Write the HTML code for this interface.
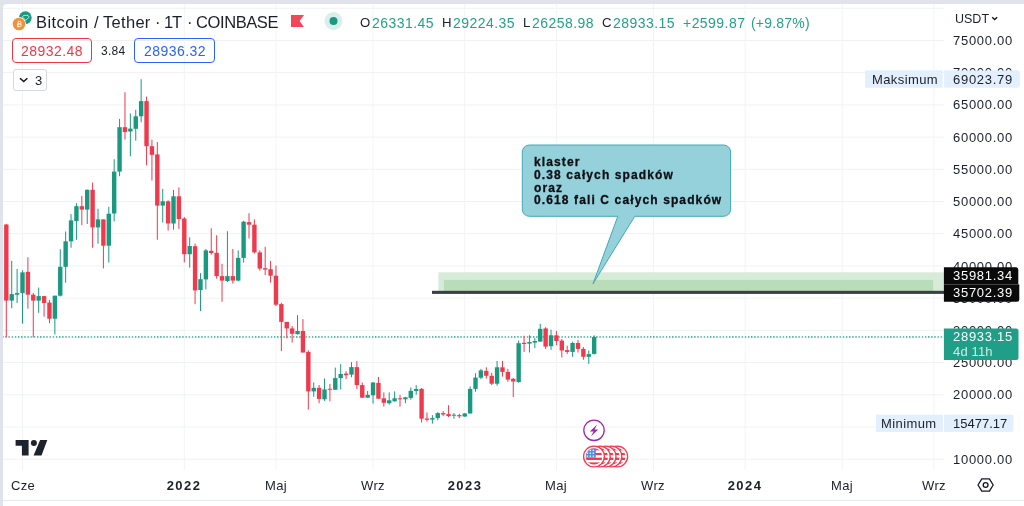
<!DOCTYPE html>
<html><head><meta charset="utf-8"><title>BTCUSDT</title>
<style>
html,body{margin:0;padding:0;}
body{width:1024px;height:506px;overflow:hidden;background:#e0e3eb;position:relative;font-family:"Liberation Sans",sans-serif;}
#pane{position:absolute;left:3px;top:4px;width:1021px;height:502px;background:#fff;border-top-left-radius:4px;}
#bl{position:absolute;left:3px;top:500px;width:1021px;height:1px;background:#e7eaec;}
svg{position:absolute;left:0;top:0;}
.t{position:absolute;white-space:nowrap;will-change:transform;}
.c{text-align:center;color:#1b1f2a;}
.box{position:absolute;box-sizing:border-box;border:1px solid;border-radius:4px;}
</style></head><body>
<div id="pane"></div>
<div id="bl"></div>
<svg width="1024" height="506" viewBox="0 0 1024 506">
<rect x="3" y="458.70" width="941" height="1" fill="#f0f2f2"/>
<rect x="3" y="426.49" width="941" height="1" fill="#f0f2f2"/>
<rect x="3" y="394.28" width="941" height="1" fill="#f0f2f2"/>
<rect x="3" y="362.07" width="941" height="1" fill="#f0f2f2"/>
<rect x="3" y="329.86" width="941" height="1" fill="#f0f2f2"/>
<rect x="3" y="297.65" width="941" height="1" fill="#f0f2f2"/>
<rect x="3" y="265.44" width="941" height="1" fill="#f0f2f2"/>
<rect x="3" y="233.23" width="941" height="1" fill="#f0f2f2"/>
<rect x="3" y="201.02" width="941" height="1" fill="#f0f2f2"/>
<rect x="3" y="168.81" width="941" height="1" fill="#f0f2f2"/>
<rect x="3" y="136.60" width="941" height="1" fill="#f0f2f2"/>
<rect x="3" y="104.39" width="941" height="1" fill="#f0f2f2"/>
<rect x="3" y="72.18" width="941" height="1" fill="#f0f2f2"/>
<rect x="3" y="39.97" width="941" height="1" fill="#f0f2f2"/>
<rect x="3" y="7.76" width="941" height="1" fill="#f0f2f2"/>
<rect x="22.00" y="4" width="1" height="466" fill="#f2f4f4"/>
<rect x="183.79" y="4" width="1" height="466" fill="#f2f4f4"/>
<rect x="275.47" y="4" width="1" height="466" fill="#f2f4f4"/>
<rect x="372.54" y="4" width="1" height="466" fill="#f2f4f4"/>
<rect x="464.22" y="4" width="1" height="466" fill="#f2f4f4"/>
<rect x="555.91" y="4" width="1" height="466" fill="#f2f4f4"/>
<rect x="652.98" y="4" width="1" height="466" fill="#f2f4f4"/>
<rect x="744.66" y="4" width="1" height="466" fill="#f2f4f4"/>
<rect x="841.74" y="4" width="1" height="466" fill="#f2f4f4"/>
<rect x="933.42" y="4" width="1" height="466" fill="#f2f4f4"/>
<rect x="438.4" y="272.3" width="505.6" height="18.6" fill="#d7ebd9"/>
<rect x="443.9" y="279.9" width="489.3" height="11" fill="#b8ddb8"/>
<rect x="432" y="290.8" width="512" height="3.1" fill="#3b3e44"/>
<defs><pattern id="dots" x="2.2" y="0" width="3.16" height="2" patternUnits="userSpaceOnUse"><rect x="0" y="0" width="1.3" height="2" fill="#2fa590"/></pattern></defs>
<rect x="3" y="336.15" width="941" height="1.6" fill="url(#dots)"/>
<rect x="5.82" y="223.8" width="1" height="113.2" fill="#ef3a4e"/>
<rect x="4.12" y="224.5" width="4.4" height="76.1" fill="#ef3a4e"/>
<rect x="11.21" y="260.9" width="1" height="47.4" fill="#1a9981"/>
<rect x="9.51" y="294.1" width="4.4" height="6.5" fill="#1a9981"/>
<rect x="16.61" y="269.0" width="1" height="34.0" fill="#1a9981"/>
<rect x="14.91" y="293.1" width="4.4" height="1.6" fill="#1a9981"/>
<rect x="22.00" y="270.4" width="1" height="53.2" fill="#1a9981"/>
<rect x="20.30" y="272.4" width="4.4" height="20.7" fill="#1a9981"/>
<rect x="27.39" y="257.2" width="1" height="51.5" fill="#ef3a4e"/>
<rect x="25.69" y="271.8" width="4.4" height="22.9" fill="#ef3a4e"/>
<rect x="32.78" y="293.0" width="1" height="44.4" fill="#ef3a4e"/>
<rect x="31.08" y="294.7" width="4.4" height="5.9" fill="#ef3a4e"/>
<rect x="38.18" y="287.6" width="1" height="25.2" fill="#1a9981"/>
<rect x="36.48" y="296.1" width="4.4" height="4.5" fill="#1a9981"/>
<rect x="43.57" y="296.1" width="1" height="20.6" fill="#ef3a4e"/>
<rect x="41.87" y="296.1" width="4.4" height="6.9" fill="#ef3a4e"/>
<rect x="48.96" y="300.0" width="1" height="23.2" fill="#ef3a4e"/>
<rect x="47.26" y="302.6" width="4.4" height="16.1" fill="#ef3a4e"/>
<rect x="54.36" y="295.7" width="1" height="38.8" fill="#1a9981"/>
<rect x="52.66" y="295.7" width="4.4" height="23.0" fill="#1a9981"/>
<rect x="59.75" y="249.2" width="1" height="47.3" fill="#1a9981"/>
<rect x="58.05" y="266.8" width="4.4" height="28.9" fill="#1a9981"/>
<rect x="65.14" y="231.5" width="1" height="51.3" fill="#1a9981"/>
<rect x="63.44" y="241.3" width="4.4" height="25.5" fill="#1a9981"/>
<rect x="70.54" y="214.1" width="1" height="33.6" fill="#1a9981"/>
<rect x="68.84" y="220.4" width="4.4" height="20.9" fill="#1a9981"/>
<rect x="75.93" y="203.2" width="1" height="36.6" fill="#1a9981"/>
<rect x="74.23" y="206.2" width="4.4" height="14.8" fill="#1a9981"/>
<rect x="81.32" y="195.9" width="1" height="29.1" fill="#ef3a4e"/>
<rect x="79.62" y="206.2" width="4.4" height="3.4" fill="#ef3a4e"/>
<rect x="86.72" y="189.4" width="1" height="34.6" fill="#1a9981"/>
<rect x="85.02" y="189.8" width="4.4" height="19.8" fill="#1a9981"/>
<rect x="92.11" y="182.5" width="1" height="65.2" fill="#ef3a4e"/>
<rect x="90.41" y="189.8" width="4.4" height="37.6" fill="#ef3a4e"/>
<rect x="97.50" y="208.8" width="1" height="34.9" fill="#1a9981"/>
<rect x="95.80" y="219.4" width="4.4" height="8.0" fill="#1a9981"/>
<rect x="102.89" y="219.4" width="1" height="49.0" fill="#ef3a4e"/>
<rect x="101.19" y="219.4" width="4.4" height="26.3" fill="#ef3a4e"/>
<rect x="108.29" y="206.8" width="1" height="55.7" fill="#1a9981"/>
<rect x="106.59" y="213.7" width="4.4" height="32.0" fill="#1a9981"/>
<rect x="113.68" y="159.2" width="1" height="62.2" fill="#1a9981"/>
<rect x="111.98" y="171.6" width="4.4" height="41.9" fill="#1a9981"/>
<rect x="119.07" y="118.9" width="1" height="57.3" fill="#1a9981"/>
<rect x="117.37" y="127.2" width="4.4" height="44.4" fill="#1a9981"/>
<rect x="124.47" y="92.2" width="1" height="47.4" fill="#ef3a4e"/>
<rect x="122.77" y="127.2" width="4.4" height="4.9" fill="#ef3a4e"/>
<rect x="129.86" y="113.4" width="1" height="42.9" fill="#1a9981"/>
<rect x="128.16" y="128.6" width="4.4" height="2.9" fill="#1a9981"/>
<rect x="135.25" y="109.8" width="1" height="30.8" fill="#1a9981"/>
<rect x="133.55" y="116.3" width="4.4" height="12.5" fill="#1a9981"/>
<rect x="140.64" y="79.2" width="1" height="43.1" fill="#1a9981"/>
<rect x="138.94" y="101.1" width="4.4" height="15.2" fill="#1a9981"/>
<rect x="146.04" y="96.6" width="1" height="68.7" fill="#ef3a4e"/>
<rect x="144.34" y="101.1" width="4.4" height="45.1" fill="#ef3a4e"/>
<rect x="151.43" y="139.6" width="1" height="40.9" fill="#ef3a4e"/>
<rect x="149.73" y="146.2" width="4.4" height="8.6" fill="#ef3a4e"/>
<rect x="156.82" y="142.0" width="1" height="97.8" fill="#ef3a4e"/>
<rect x="155.12" y="154.4" width="4.4" height="51.2" fill="#ef3a4e"/>
<rect x="162.22" y="188.8" width="1" height="33.7" fill="#1a9981"/>
<rect x="160.52" y="201.3" width="4.4" height="4.3" fill="#1a9981"/>
<rect x="167.61" y="200.3" width="1" height="30.2" fill="#ef3a4e"/>
<rect x="165.91" y="201.3" width="4.4" height="22.2" fill="#ef3a4e"/>
<rect x="173.00" y="190.0" width="1" height="39.7" fill="#1a9981"/>
<rect x="171.30" y="196.3" width="4.4" height="27.2" fill="#1a9981"/>
<rect x="178.40" y="187.4" width="1" height="41.5" fill="#ef3a4e"/>
<rect x="176.70" y="196.3" width="4.4" height="22.7" fill="#ef3a4e"/>
<rect x="183.79" y="217.0" width="1" height="45.4" fill="#ef3a4e"/>
<rect x="182.09" y="218.5" width="4.4" height="35.7" fill="#ef3a4e"/>
<rect x="189.18" y="237.3" width="1" height="30.3" fill="#1a9981"/>
<rect x="187.48" y="246.0" width="4.4" height="8.2" fill="#1a9981"/>
<rect x="194.57" y="243.6" width="1" height="60.6" fill="#ef3a4e"/>
<rect x="192.88" y="246.2" width="4.4" height="44.2" fill="#ef3a4e"/>
<rect x="199.97" y="273.1" width="1" height="37.9" fill="#1a9981"/>
<rect x="198.27" y="279.2" width="4.4" height="10.8" fill="#1a9981"/>
<rect x="205.36" y="249.0" width="1" height="40.4" fill="#1a9981"/>
<rect x="203.66" y="250.4" width="4.4" height="29.0" fill="#1a9981"/>
<rect x="210.75" y="228.3" width="1" height="26.4" fill="#ef3a4e"/>
<rect x="209.05" y="250.8" width="4.4" height="2.2" fill="#ef3a4e"/>
<rect x="216.15" y="235.2" width="1" height="43.5" fill="#ef3a4e"/>
<rect x="214.45" y="252.8" width="4.4" height="23.3" fill="#ef3a4e"/>
<rect x="221.54" y="263.8" width="1" height="37.9" fill="#ef3a4e"/>
<rect x="219.84" y="276.1" width="4.4" height="4.5" fill="#ef3a4e"/>
<rect x="226.93" y="231.2" width="1" height="50.8" fill="#1a9981"/>
<rect x="225.23" y="276.1" width="4.4" height="4.9" fill="#1a9981"/>
<rect x="232.33" y="249.0" width="1" height="34.6" fill="#ef3a4e"/>
<rect x="230.63" y="276.1" width="4.4" height="4.5" fill="#ef3a4e"/>
<rect x="237.72" y="250.4" width="1" height="31.0" fill="#1a9981"/>
<rect x="236.02" y="257.9" width="4.4" height="22.7" fill="#1a9981"/>
<rect x="243.11" y="220.8" width="1" height="41.8" fill="#1a9981"/>
<rect x="241.41" y="221.7" width="4.4" height="36.2" fill="#1a9981"/>
<rect x="248.50" y="213.2" width="1" height="25.3" fill="#ef3a4e"/>
<rect x="246.81" y="222.1" width="4.4" height="2.6" fill="#ef3a4e"/>
<rect x="253.90" y="219.4" width="1" height="34.0" fill="#ef3a4e"/>
<rect x="252.20" y="224.7" width="4.4" height="27.7" fill="#ef3a4e"/>
<rect x="259.29" y="250.4" width="1" height="20.2" fill="#ef3a4e"/>
<rect x="257.59" y="252.4" width="4.4" height="16.2" fill="#ef3a4e"/>
<rect x="264.68" y="246.8" width="1" height="28.3" fill="#ef3a4e"/>
<rect x="262.98" y="268.2" width="4.4" height="1.4" fill="#ef3a4e"/>
<rect x="270.08" y="260.9" width="1" height="21.7" fill="#ef3a4e"/>
<rect x="268.38" y="269.2" width="4.4" height="6.5" fill="#ef3a4e"/>
<rect x="275.47" y="265.6" width="1" height="40.4" fill="#ef3a4e"/>
<rect x="273.77" y="275.7" width="4.4" height="29.0" fill="#ef3a4e"/>
<rect x="280.86" y="302.7" width="1" height="48.4" fill="#ef3a4e"/>
<rect x="279.16" y="304.1" width="4.4" height="17.8" fill="#ef3a4e"/>
<rect x="286.26" y="321.9" width="1" height="16.4" fill="#ef3a4e"/>
<rect x="284.56" y="321.9" width="4.4" height="6.5" fill="#ef3a4e"/>
<rect x="291.65" y="326.0" width="1" height="16.6" fill="#ef3a4e"/>
<rect x="289.95" y="328.4" width="4.4" height="5.4" fill="#ef3a4e"/>
<rect x="297.04" y="315.2" width="1" height="19.4" fill="#1a9981"/>
<rect x="295.34" y="331.0" width="4.4" height="3.2" fill="#1a9981"/>
<rect x="302.44" y="319.1" width="1" height="33.4" fill="#ef3a4e"/>
<rect x="300.74" y="331.0" width="4.4" height="21.5" fill="#ef3a4e"/>
<rect x="307.83" y="350.3" width="1" height="59.3" fill="#ef3a4e"/>
<rect x="306.13" y="351.9" width="4.4" height="39.5" fill="#ef3a4e"/>
<rect x="313.22" y="382.5" width="1" height="14.2" fill="#1a9981"/>
<rect x="311.52" y="387.8" width="4.4" height="3.6" fill="#1a9981"/>
<rect x="318.61" y="385.0" width="1" height="18.2" fill="#ef3a4e"/>
<rect x="316.91" y="387.8" width="4.4" height="11.1" fill="#ef3a4e"/>
<rect x="324.01" y="378.5" width="1" height="22.4" fill="#1a9981"/>
<rect x="322.31" y="389.4" width="4.4" height="9.9" fill="#1a9981"/>
<rect x="329.40" y="383.9" width="1" height="17.4" fill="#ef3a4e"/>
<rect x="327.70" y="388.8" width="4.4" height="1.0" fill="#ef3a4e"/>
<rect x="334.79" y="367.6" width="1" height="22.2" fill="#1a9981"/>
<rect x="333.09" y="378.1" width="4.4" height="11.7" fill="#1a9981"/>
<rect x="340.19" y="364.2" width="1" height="25.2" fill="#1a9981"/>
<rect x="338.49" y="374.0" width="4.4" height="4.1" fill="#1a9981"/>
<rect x="345.58" y="371.2" width="1" height="7.8" fill="#ef3a4e"/>
<rect x="343.88" y="373.6" width="4.4" height="1.6" fill="#ef3a4e"/>
<rect x="350.97" y="362.1" width="1" height="15.1" fill="#1a9981"/>
<rect x="349.27" y="367.1" width="4.4" height="7.5" fill="#1a9981"/>
<rect x="356.36" y="361.1" width="1" height="27.9" fill="#ef3a4e"/>
<rect x="354.66" y="367.1" width="4.4" height="18.0" fill="#ef3a4e"/>
<rect x="361.76" y="382.5" width="1" height="15.2" fill="#ef3a4e"/>
<rect x="360.06" y="385.1" width="4.4" height="12.6" fill="#ef3a4e"/>
<rect x="367.15" y="391.0" width="1" height="6.7" fill="#1a9981"/>
<rect x="365.45" y="394.9" width="4.4" height="2.8" fill="#1a9981"/>
<rect x="372.54" y="382.0" width="1" height="21.6" fill="#1a9981"/>
<rect x="370.84" y="382.5" width="4.4" height="12.8" fill="#1a9981"/>
<rect x="377.94" y="377.0" width="1" height="21.7" fill="#ef3a4e"/>
<rect x="376.24" y="382.9" width="4.4" height="15.8" fill="#ef3a4e"/>
<rect x="383.33" y="392.4" width="1" height="14.2" fill="#ef3a4e"/>
<rect x="381.63" y="398.3" width="4.4" height="4.5" fill="#ef3a4e"/>
<rect x="388.72" y="392.4" width="1" height="12.2" fill="#1a9981"/>
<rect x="387.02" y="400.3" width="4.4" height="2.9" fill="#1a9981"/>
<rect x="394.12" y="391.4" width="1" height="10.3" fill="#1a9981"/>
<rect x="392.42" y="398.3" width="4.4" height="3.0" fill="#1a9981"/>
<rect x="399.51" y="394.9" width="1" height="11.7" fill="#ef3a4e"/>
<rect x="397.81" y="398.3" width="4.4" height="1.0" fill="#ef3a4e"/>
<rect x="404.90" y="396.9" width="1" height="6.3" fill="#1a9981"/>
<rect x="403.20" y="397.3" width="4.4" height="2.0" fill="#1a9981"/>
<rect x="410.29" y="387.4" width="1" height="12.3" fill="#1a9981"/>
<rect x="408.59" y="390.8" width="4.4" height="7.1" fill="#1a9981"/>
<rect x="415.69" y="385.1" width="1" height="9.6" fill="#1a9981"/>
<rect x="413.99" y="389.0" width="4.4" height="2.0" fill="#1a9981"/>
<rect x="421.08" y="388.0" width="1" height="34.6" fill="#ef3a4e"/>
<rect x="419.38" y="388.8" width="4.4" height="29.9" fill="#ef3a4e"/>
<rect x="426.47" y="412.5" width="1" height="9.1" fill="#ef3a4e"/>
<rect x="424.77" y="418.5" width="4.4" height="1.3" fill="#ef3a4e"/>
<rect x="431.87" y="415.1" width="1" height="8.5" fill="#1a9981"/>
<rect x="430.17" y="418.1" width="4.4" height="1.5" fill="#1a9981"/>
<rect x="437.26" y="412.1" width="1" height="8.3" fill="#1a9981"/>
<rect x="435.56" y="413.1" width="4.4" height="5.0" fill="#1a9981"/>
<rect x="442.65" y="411.1" width="1" height="5.0" fill="#ef3a4e"/>
<rect x="440.95" y="413.1" width="4.4" height="1.4" fill="#ef3a4e"/>
<rect x="448.05" y="405.2" width="1" height="11.9" fill="#ef3a4e"/>
<rect x="446.35" y="414.1" width="4.4" height="2.0" fill="#ef3a4e"/>
<rect x="453.44" y="413.1" width="1" height="5.6" fill="#1a9981"/>
<rect x="451.74" y="414.7" width="4.4" height="1.0" fill="#1a9981"/>
<rect x="458.83" y="413.7" width="1" height="4.4" fill="#ef3a4e"/>
<rect x="457.13" y="415.1" width="4.4" height="1.2" fill="#ef3a4e"/>
<rect x="464.22" y="413.0" width="1" height="4.0" fill="#1a9981"/>
<rect x="462.52" y="413.5" width="4.4" height="3.0" fill="#1a9981"/>
<rect x="469.62" y="386.4" width="1" height="27.1" fill="#1a9981"/>
<rect x="467.92" y="388.9" width="4.4" height="24.6" fill="#1a9981"/>
<rect x="475.01" y="373.2" width="1" height="18.5" fill="#1a9981"/>
<rect x="473.31" y="377.6" width="4.4" height="11.3" fill="#1a9981"/>
<rect x="480.40" y="368.9" width="1" height="10.3" fill="#1a9981"/>
<rect x="478.70" y="370.4" width="4.4" height="7.3" fill="#1a9981"/>
<rect x="485.80" y="367.3" width="1" height="11.3" fill="#ef3a4e"/>
<rect x="484.10" y="370.9" width="4.4" height="4.9" fill="#ef3a4e"/>
<rect x="491.19" y="372.8" width="1" height="12.3" fill="#ef3a4e"/>
<rect x="489.49" y="375.8" width="4.4" height="7.9" fill="#ef3a4e"/>
<rect x="496.58" y="361.0" width="1" height="24.7" fill="#1a9981"/>
<rect x="494.88" y="367.3" width="4.4" height="16.4" fill="#1a9981"/>
<rect x="501.98" y="360.8" width="1" height="15.8" fill="#ef3a4e"/>
<rect x="500.28" y="367.3" width="4.4" height="4.6" fill="#ef3a4e"/>
<rect x="507.37" y="368.9" width="1" height="12.8" fill="#ef3a4e"/>
<rect x="505.67" y="371.9" width="4.4" height="7.7" fill="#ef3a4e"/>
<rect x="512.76" y="377.8" width="1" height="19.2" fill="#ef3a4e"/>
<rect x="511.06" y="378.8" width="4.4" height="2.7" fill="#ef3a4e"/>
<rect x="518.16" y="340.6" width="1" height="42.1" fill="#1a9981"/>
<rect x="516.46" y="343.2" width="4.4" height="38.9" fill="#1a9981"/>
<rect x="523.55" y="335.7" width="1" height="16.2" fill="#ef3a4e"/>
<rect x="521.85" y="342.8" width="4.4" height="1.2" fill="#ef3a4e"/>
<rect x="528.94" y="335.3" width="1" height="17.2" fill="#1a9981"/>
<rect x="527.24" y="342.0" width="4.4" height="1.6" fill="#1a9981"/>
<rect x="534.33" y="338.1" width="1" height="10.0" fill="#1a9981"/>
<rect x="532.63" y="341.0" width="4.4" height="1.6" fill="#1a9981"/>
<rect x="539.73" y="323.8" width="1" height="17.8" fill="#1a9981"/>
<rect x="538.03" y="328.8" width="4.4" height="12.8" fill="#1a9981"/>
<rect x="545.12" y="327.2" width="1" height="21.7" fill="#ef3a4e"/>
<rect x="543.42" y="328.4" width="4.4" height="18.2" fill="#ef3a4e"/>
<rect x="550.51" y="329.8" width="1" height="20.1" fill="#1a9981"/>
<rect x="548.81" y="335.3" width="4.4" height="10.9" fill="#1a9981"/>
<rect x="555.91" y="330.8" width="1" height="14.4" fill="#ef3a4e"/>
<rect x="554.21" y="335.3" width="4.4" height="5.7" fill="#ef3a4e"/>
<rect x="561.30" y="339.0" width="1" height="18.4" fill="#ef3a4e"/>
<rect x="559.60" y="340.6" width="4.4" height="9.9" fill="#ef3a4e"/>
<rect x="566.69" y="345.6" width="1" height="8.3" fill="#ef3a4e"/>
<rect x="564.99" y="350.1" width="4.4" height="1.8" fill="#ef3a4e"/>
<rect x="572.09" y="341.6" width="1" height="15.2" fill="#1a9981"/>
<rect x="570.38" y="343.0" width="4.4" height="8.9" fill="#1a9981"/>
<rect x="577.48" y="340.0" width="1" height="12.5" fill="#ef3a4e"/>
<rect x="575.78" y="343.0" width="4.4" height="5.9" fill="#ef3a4e"/>
<rect x="582.87" y="347.0" width="1" height="12.8" fill="#ef3a4e"/>
<rect x="581.17" y="348.9" width="4.4" height="7.9" fill="#ef3a4e"/>
<rect x="588.26" y="350.5" width="1" height="13.3" fill="#1a9981"/>
<rect x="586.56" y="354.1" width="4.4" height="2.7" fill="#1a9981"/>
<rect x="593.66" y="335.3" width="1" height="19.2" fill="#1a9981"/>
<rect x="591.96" y="337.1" width="4.4" height="16.8" fill="#1a9981"/>
<path d="M529.3 145 H723.6 a7 7 0 0 1 7 7 V209.3 a7 7 0 0 1 -7 7 H634.8 L593 283.8 L617.8 216.3 H529.3 a7 7 0 0 1 -7 -7 V152 a7 7 0 0 1 7 -7 Z" fill="#94d1da" stroke="#43a8b7" stroke-width="1"/>
<path d="M15.6 439.9 H28.6 V455.4 H21.9 V445.7 H15.6 Z" fill="#1e222d"/>
<circle cx="33.9" cy="443" r="3" fill="#1e222d"/>
<path d="M40.1 439.9 H47.3 L41.5 455.4 H33.6 Z" fill="#1e222d"/>
<g><circle cx="617.2" cy="456.5" r="10.4" fill="#fff" stroke="#ef3a4e" stroke-width="1.3"/><clipPath id="fc4"><circle cx="617.2" cy="456.5" r="8.3"/></clipPath><g clip-path="url(#fc4)"><rect x="608.2" y="448.20" width="18" height="2.37" fill="#ef3a4e"/><rect x="608.2" y="450.57" width="18" height="2.37" fill="#fff"/><rect x="608.2" y="452.94" width="18" height="2.37" fill="#ef3a4e"/><rect x="608.2" y="455.31" width="18" height="2.37" fill="#fff"/><rect x="608.2" y="457.68" width="18" height="2.37" fill="#ef3a4e"/><rect x="608.2" y="460.05" width="18" height="2.37" fill="#fff"/><rect x="608.2" y="462.42" width="18" height="2.37" fill="#ef3a4e"/><rect x="608.2" y="448.2" width="10.8" height="9.48" fill="#4a8ce8"/><rect x="609.80" y="449.60" width="1.5" height="1.5" fill="#e8f0fc"/><rect x="609.80" y="452.50" width="1.5" height="1.5" fill="#e8f0fc"/><rect x="609.80" y="455.40" width="1.5" height="1.5" fill="#e8f0fc"/><rect x="612.80" y="449.60" width="1.5" height="1.5" fill="#e8f0fc"/><rect x="612.80" y="452.50" width="1.5" height="1.5" fill="#e8f0fc"/><rect x="612.80" y="455.40" width="1.5" height="1.5" fill="#e8f0fc"/><rect x="615.80" y="449.60" width="1.5" height="1.5" fill="#e8f0fc"/><rect x="615.80" y="452.50" width="1.5" height="1.5" fill="#e8f0fc"/><rect x="615.80" y="455.40" width="1.5" height="1.5" fill="#e8f0fc"/></g></g>
<g><circle cx="611.4" cy="456.5" r="10.4" fill="#fff" stroke="#ef3a4e" stroke-width="1.3"/><clipPath id="fc3"><circle cx="611.4" cy="456.5" r="8.3"/></clipPath><g clip-path="url(#fc3)"><rect x="602.4" y="448.20" width="18" height="2.37" fill="#ef3a4e"/><rect x="602.4" y="450.57" width="18" height="2.37" fill="#fff"/><rect x="602.4" y="452.94" width="18" height="2.37" fill="#ef3a4e"/><rect x="602.4" y="455.31" width="18" height="2.37" fill="#fff"/><rect x="602.4" y="457.68" width="18" height="2.37" fill="#ef3a4e"/><rect x="602.4" y="460.05" width="18" height="2.37" fill="#fff"/><rect x="602.4" y="462.42" width="18" height="2.37" fill="#ef3a4e"/><rect x="602.4" y="448.2" width="10.8" height="9.48" fill="#4a8ce8"/><rect x="604.00" y="449.60" width="1.5" height="1.5" fill="#e8f0fc"/><rect x="604.00" y="452.50" width="1.5" height="1.5" fill="#e8f0fc"/><rect x="604.00" y="455.40" width="1.5" height="1.5" fill="#e8f0fc"/><rect x="607.00" y="449.60" width="1.5" height="1.5" fill="#e8f0fc"/><rect x="607.00" y="452.50" width="1.5" height="1.5" fill="#e8f0fc"/><rect x="607.00" y="455.40" width="1.5" height="1.5" fill="#e8f0fc"/><rect x="610.00" y="449.60" width="1.5" height="1.5" fill="#e8f0fc"/><rect x="610.00" y="452.50" width="1.5" height="1.5" fill="#e8f0fc"/><rect x="610.00" y="455.40" width="1.5" height="1.5" fill="#e8f0fc"/></g></g>
<g><circle cx="605.6" cy="456.5" r="10.4" fill="#fff" stroke="#ef3a4e" stroke-width="1.3"/><clipPath id="fc2"><circle cx="605.6" cy="456.5" r="8.3"/></clipPath><g clip-path="url(#fc2)"><rect x="596.6" y="448.20" width="18" height="2.37" fill="#ef3a4e"/><rect x="596.6" y="450.57" width="18" height="2.37" fill="#fff"/><rect x="596.6" y="452.94" width="18" height="2.37" fill="#ef3a4e"/><rect x="596.6" y="455.31" width="18" height="2.37" fill="#fff"/><rect x="596.6" y="457.68" width="18" height="2.37" fill="#ef3a4e"/><rect x="596.6" y="460.05" width="18" height="2.37" fill="#fff"/><rect x="596.6" y="462.42" width="18" height="2.37" fill="#ef3a4e"/><rect x="596.6" y="448.2" width="10.8" height="9.48" fill="#4a8ce8"/><rect x="598.20" y="449.60" width="1.5" height="1.5" fill="#e8f0fc"/><rect x="598.20" y="452.50" width="1.5" height="1.5" fill="#e8f0fc"/><rect x="598.20" y="455.40" width="1.5" height="1.5" fill="#e8f0fc"/><rect x="601.20" y="449.60" width="1.5" height="1.5" fill="#e8f0fc"/><rect x="601.20" y="452.50" width="1.5" height="1.5" fill="#e8f0fc"/><rect x="601.20" y="455.40" width="1.5" height="1.5" fill="#e8f0fc"/><rect x="604.20" y="449.60" width="1.5" height="1.5" fill="#e8f0fc"/><rect x="604.20" y="452.50" width="1.5" height="1.5" fill="#e8f0fc"/><rect x="604.20" y="455.40" width="1.5" height="1.5" fill="#e8f0fc"/></g></g>
<g><circle cx="599.8" cy="456.5" r="10.4" fill="#fff" stroke="#ef3a4e" stroke-width="1.3"/><clipPath id="fc1"><circle cx="599.8" cy="456.5" r="8.3"/></clipPath><g clip-path="url(#fc1)"><rect x="590.8" y="448.20" width="18" height="2.37" fill="#ef3a4e"/><rect x="590.8" y="450.57" width="18" height="2.37" fill="#fff"/><rect x="590.8" y="452.94" width="18" height="2.37" fill="#ef3a4e"/><rect x="590.8" y="455.31" width="18" height="2.37" fill="#fff"/><rect x="590.8" y="457.68" width="18" height="2.37" fill="#ef3a4e"/><rect x="590.8" y="460.05" width="18" height="2.37" fill="#fff"/><rect x="590.8" y="462.42" width="18" height="2.37" fill="#ef3a4e"/><rect x="590.8" y="448.2" width="10.8" height="9.48" fill="#4a8ce8"/><rect x="592.40" y="449.60" width="1.5" height="1.5" fill="#e8f0fc"/><rect x="592.40" y="452.50" width="1.5" height="1.5" fill="#e8f0fc"/><rect x="592.40" y="455.40" width="1.5" height="1.5" fill="#e8f0fc"/><rect x="595.40" y="449.60" width="1.5" height="1.5" fill="#e8f0fc"/><rect x="595.40" y="452.50" width="1.5" height="1.5" fill="#e8f0fc"/><rect x="595.40" y="455.40" width="1.5" height="1.5" fill="#e8f0fc"/><rect x="598.40" y="449.60" width="1.5" height="1.5" fill="#e8f0fc"/><rect x="598.40" y="452.50" width="1.5" height="1.5" fill="#e8f0fc"/><rect x="598.40" y="455.40" width="1.5" height="1.5" fill="#e8f0fc"/></g></g>
<g><circle cx="594.0" cy="456.5" r="10.4" fill="#fff" stroke="#ef3a4e" stroke-width="1.3"/><clipPath id="fc0"><circle cx="594.0" cy="456.5" r="8.3"/></clipPath><g clip-path="url(#fc0)"><rect x="585.0" y="448.20" width="18" height="2.37" fill="#ef3a4e"/><rect x="585.0" y="450.57" width="18" height="2.37" fill="#fff"/><rect x="585.0" y="452.94" width="18" height="2.37" fill="#ef3a4e"/><rect x="585.0" y="455.31" width="18" height="2.37" fill="#fff"/><rect x="585.0" y="457.68" width="18" height="2.37" fill="#ef3a4e"/><rect x="585.0" y="460.05" width="18" height="2.37" fill="#fff"/><rect x="585.0" y="462.42" width="18" height="2.37" fill="#ef3a4e"/><rect x="585.0" y="448.2" width="10.8" height="9.48" fill="#4a8ce8"/><rect x="586.60" y="449.60" width="1.5" height="1.5" fill="#e8f0fc"/><rect x="586.60" y="452.50" width="1.5" height="1.5" fill="#e8f0fc"/><rect x="586.60" y="455.40" width="1.5" height="1.5" fill="#e8f0fc"/><rect x="589.60" y="449.60" width="1.5" height="1.5" fill="#e8f0fc"/><rect x="589.60" y="452.50" width="1.5" height="1.5" fill="#e8f0fc"/><rect x="589.60" y="455.40" width="1.5" height="1.5" fill="#e8f0fc"/><rect x="592.60" y="449.60" width="1.5" height="1.5" fill="#e8f0fc"/><rect x="592.60" y="452.50" width="1.5" height="1.5" fill="#e8f0fc"/><rect x="592.60" y="455.40" width="1.5" height="1.5" fill="#e8f0fc"/></g></g>
<circle cx="594" cy="430.3" r="10.2" fill="#fff" stroke="#9c27b0" stroke-width="1.3"/>
<path d="M597.2 424.6 L589.8 431.5 L593.6 431.5 L590.9 436.6 L598.2 429.6 L594.5 429.6 Z" fill="#9c27b0"/>
<circle cx="25.3" cy="17.7" r="6.4" fill="#1a9981"/>
<path d="M23.6 15.4 h4.4 l1.2 1.7 -3.4 3.1 -3.4 -3.1z" fill="none" stroke="#fff" stroke-width="0.9" opacity="0.75"/>
<circle cx="19" cy="24" r="7.1" fill="#fff"/>
<circle cx="19" cy="24" r="6.3" fill="#f1923a"/>
<path d="M18.3 21.4 h1.5 a1.25 1.25 0 0 1 0 2.5 h-1.9 M17.9 23.9 h2 a1.35 1.35 0 0 1 0 2.7 h-2.3 Z M18.3 21.4 L17.6 26.6 M19 20.6 v0.8 M18.4 26.6 v0.8" fill="none" stroke="#fff" stroke-width="0.9" opacity="0.9"/>
<path d="M291 15 H304 L299.6 21 L304 27 H291 Z" fill="#f0475b"/>
<circle cx="333.5" cy="21" r="9" fill="#d9efeb"/>
<circle cx="333.5" cy="21" r="4" fill="#1a9981"/>
<path d="M20 78.2 L23.7 81.6 L27.4 78.2" fill="none" stroke="#131722" stroke-width="1.5"/>
<path d="M992.2 17.2 L994.7 19.5 L997.2 17.2" fill="none" stroke="#131722" stroke-width="1.4"/>
<polygon points="993.2,485.0 989.4,491.1 981.8,491.1 978.0,485.0 981.8,478.9 989.4,478.9" fill="none" stroke="#131722" stroke-width="1.3" stroke-linejoin="round"/>
<circle cx="985.6" cy="485" r="2.4" fill="none" stroke="#131722" stroke-width="1.3"/>
<rect x="865.4" y="70.5" width="77.1" height="17" fill="#e3effd"/>
<path d="M944.3 70.5 H1017.7 a2 2 0 0 1 2 2 V85.5 a2 2 0 0 1 -2 2 H944.3 Z" fill="#e3effd"/>
<rect x="876.1" y="414.8" width="66.8" height="17" fill="#e3effd"/>
<path d="M944.1 414.8 H1011.3 a2 2 0 0 1 2 2 V429.8 a2 2 0 0 1 -2 2 H944.1 Z" fill="#e3effd"/>
</svg>
<div class="box" style="left:12px;top:38px;width:80px;height:25px;border-color:#f23645;"></div>
<div class="box" style="left:134.4px;top:38px;width:80.3px;height:25px;border-color:#2962ff;"></div>
<div class="box" style="left:13px;top:69px;width:34px;height:22px;border-color:#d6d9e0;border-radius:3px;background:#fff;"></div>
<svg width="1024" height="506" viewBox="0 0 1024 506">
<path d="M20 78.2 L23.7 81.6 L27.4 78.2" fill="none" stroke="#131722" stroke-width="1.5"/>
</svg>
<div class="t" style="left:36.0px;top:14.03px;font-size:16.5px;line-height:16.5px;color:#1b1f2a;letter-spacing:0.45px;font-weight:400;">Bitcoin</div>
<div class="t" style="left:93.8px;top:14.03px;font-size:16.5px;line-height:16.5px;color:#1b1f2a;letter-spacing:0px;font-weight:400;">/</div>
<div class="t" style="left:102.5px;top:14.03px;font-size:16.5px;line-height:16.5px;color:#1b1f2a;letter-spacing:0.3px;font-weight:400;">Tether</div>
<div class="t" style="left:155.0px;top:14.03px;font-size:16.5px;line-height:16.5px;color:#1b1f2a;letter-spacing:0px;font-weight:400;">·</div>
<div class="t" style="left:164.4px;top:14.03px;font-size:16.5px;line-height:16.5px;color:#1b1f2a;letter-spacing:-1.2px;font-weight:400;">1T</div>
<div class="t" style="left:186.8px;top:14.03px;font-size:16.5px;line-height:16.5px;color:#1b1f2a;letter-spacing:0px;font-weight:400;">·</div>
<div class="t" style="left:195.9px;top:14.03px;font-size:16.5px;line-height:16.5px;color:#1b1f2a;letter-spacing:-0.4px;font-weight:400;">COINBASE</div>
<div class="t" style="left:360px;top:16.33px;font-size:13.2px;line-height:13.2px;color:#1b1f2a;letter-spacing:0px;font-weight:400;">O</div>
<div class="t" style="left:372px;top:15.65px;font-size:14px;line-height:14px;color:#22a28a;letter-spacing:0.45px;font-weight:400;">26331.45</div>
<div class="t" style="left:441.5px;top:16.33px;font-size:13.2px;line-height:13.2px;color:#1b1f2a;letter-spacing:0px;font-weight:400;">H</div>
<div class="t" style="left:453px;top:15.65px;font-size:14px;line-height:14px;color:#22a28a;letter-spacing:0.45px;font-weight:400;">29224.35</div>
<div class="t" style="left:523px;top:16.33px;font-size:13.2px;line-height:13.2px;color:#1b1f2a;letter-spacing:0px;font-weight:400;">L</div>
<div class="t" style="left:532px;top:15.65px;font-size:14px;line-height:14px;color:#22a28a;letter-spacing:0.45px;font-weight:400;">26258.98</div>
<div class="t" style="left:601.5px;top:16.33px;font-size:13.2px;line-height:13.2px;color:#1b1f2a;letter-spacing:0px;font-weight:400;">C</div>
<div class="t" style="left:612.5px;top:15.65px;font-size:14px;line-height:14px;color:#22a28a;letter-spacing:0.45px;font-weight:400;">28933.15</div>
<div class="t" style="left:682.5px;top:15.65px;font-size:14px;line-height:14px;color:#22a28a;letter-spacing:0.45px;font-weight:400;">+2599.87</div>
<div class="t" style="left:750.7px;top:15.65px;font-size:14px;line-height:14px;color:#22a28a;letter-spacing:0.2px;font-weight:400;">(+9.87%)</div>
<div class="t" style="left:20.7px;top:43.65px;font-size:14px;line-height:14px;color:#f23645;letter-spacing:0.45px;font-weight:400;">28932.48</div>
<div class="t" style="left:101px;top:45.04px;font-size:12px;line-height:12px;color:#1b1f2a;letter-spacing:0.3px;font-weight:400;">3.84</div>
<div class="t" style="left:143.7px;top:43.65px;font-size:14px;line-height:14px;color:#2962ff;letter-spacing:0.45px;font-weight:400;">28936.32</div>
<div class="t" style="left:35.2px;top:74.30px;font-size:13px;line-height:13px;color:#1b1f2a;letter-spacing:0px;font-weight:400;">3</div>
<div class="t" style="left:955.2px;top:13.02px;font-size:12.5px;line-height:12.5px;color:#1b1f2a;letter-spacing:0px;font-weight:400;">USDT</div>
<div class="t" style="left:533.7px;top:156.44px;font-size:12px;line-height:12px;color:#0c0e15;letter-spacing:1.12px;font-weight:700;-webkit-text-stroke:0.3px #0c0e15;">klaster</div>
<div class="t" style="left:533.7px;top:169.04px;font-size:12px;line-height:12px;color:#0c0e15;letter-spacing:1.12px;font-weight:700;-webkit-text-stroke:0.3px #0c0e15;">0.38 całych spadków</div>
<div class="t" style="left:533.7px;top:181.64px;font-size:12px;line-height:12px;color:#0c0e15;letter-spacing:1.12px;font-weight:700;-webkit-text-stroke:0.3px #0c0e15;">oraz</div>
<div class="t" style="left:533.7px;top:194.24px;font-size:12px;line-height:12px;color:#0c0e15;letter-spacing:1.12px;font-weight:700;-webkit-text-stroke:0.3px #0c0e15;">0.618 fali C całych spadków</div>
<div class="t c" style="left:-17.501px;width:80px;top:479.00px;font-size:13px;line-height:13px;font-weight:400;letter-spacing:0.3px">Cze</div>
<div class="t c" style="left:144.289px;width:80px;top:479.00px;font-size:13px;line-height:13px;font-weight:700;letter-spacing:1.45px">2022</div>
<div class="t c" style="left:235.96999999999997px;width:80px;top:479.00px;font-size:13px;line-height:13px;font-weight:400;letter-spacing:0.3px">Maj</div>
<div class="t c" style="left:333.044px;width:80px;top:479.00px;font-size:13px;line-height:13px;font-weight:400;letter-spacing:0.3px">Wrz</div>
<div class="t c" style="left:424.72499999999997px;width:80px;top:479.00px;font-size:13px;line-height:13px;font-weight:700;letter-spacing:1.45px">2023</div>
<div class="t c" style="left:516.4060000000001px;width:80px;top:479.00px;font-size:13px;line-height:13px;font-weight:400;letter-spacing:0.3px">Maj</div>
<div class="t c" style="left:613.48px;width:80px;top:479.00px;font-size:13px;line-height:13px;font-weight:400;letter-spacing:0.3px">Wrz</div>
<div class="t c" style="left:705.1610000000001px;width:80px;top:479.00px;font-size:13px;line-height:13px;font-weight:700;letter-spacing:1.45px">2024</div>
<div class="t c" style="left:802.235px;width:80px;top:479.00px;font-size:13px;line-height:13px;font-weight:400;letter-spacing:0.3px">Maj</div>
<div class="t c" style="left:893.916px;width:80px;top:479.00px;font-size:13px;line-height:13px;font-weight:400;letter-spacing:0.3px">Wrz</div>
<div class="t" style="left:953px;top:34.07px;font-size:13px;line-height:13px;color:#1b1f2a;letter-spacing:0.72px;font-weight:400;">75000.00</div>
<div class="t" style="left:953px;top:66.28px;font-size:13px;line-height:13px;color:#1b1f2a;letter-spacing:0.72px;font-weight:400;">70000.00</div>
<div class="t" style="left:953px;top:98.49px;font-size:13px;line-height:13px;color:#1b1f2a;letter-spacing:0.72px;font-weight:400;">65000.00</div>
<div class="t" style="left:953px;top:130.70px;font-size:13px;line-height:13px;color:#1b1f2a;letter-spacing:0.72px;font-weight:400;">60000.00</div>
<div class="t" style="left:953px;top:162.91px;font-size:13px;line-height:13px;color:#1b1f2a;letter-spacing:0.72px;font-weight:400;">55000.00</div>
<div class="t" style="left:953px;top:195.12px;font-size:13px;line-height:13px;color:#1b1f2a;letter-spacing:0.72px;font-weight:400;">50000.00</div>
<div class="t" style="left:953px;top:227.33px;font-size:13px;line-height:13px;color:#1b1f2a;letter-spacing:0.72px;font-weight:400;">45000.00</div>
<div class="t" style="left:953px;top:259.54px;font-size:13px;line-height:13px;color:#1b1f2a;letter-spacing:0.72px;font-weight:400;">40000.00</div>
<div class="t" style="left:953px;top:291.75px;font-size:13px;line-height:13px;color:#1b1f2a;letter-spacing:0.72px;font-weight:400;">35000.00</div>
<div class="t" style="left:953px;top:323.96px;font-size:13px;line-height:13px;color:#1b1f2a;letter-spacing:0.72px;font-weight:400;">30000.00</div>
<div class="t" style="left:953px;top:356.17px;font-size:13px;line-height:13px;color:#1b1f2a;letter-spacing:0.72px;font-weight:400;">25000.00</div>
<div class="t" style="left:953px;top:388.38px;font-size:13px;line-height:13px;color:#1b1f2a;letter-spacing:0.72px;font-weight:400;">20000.00</div>
<div class="t" style="left:953px;top:452.80px;font-size:13px;line-height:13px;color:#1b1f2a;letter-spacing:0.72px;font-weight:400;">10000.00</div>
<svg width="1024" height="506" viewBox="0 0 1024 506">
<rect x="865.4" y="70.5" width="77.1" height="17" fill="#e3effd"/>
<path d="M944.3 70.5 H1017.7 a2 2 0 0 1 2 2 V85.5 a2 2 0 0 1 -2 2 H944.3 Z" fill="#e3effd"/>
<rect x="876.1" y="414.8" width="66.8" height="17" fill="#e3effd"/>
<path d="M944.1 414.8 H1011.3 a2 2 0 0 1 2 2 V429.8 a2 2 0 0 1 -2 2 H944.1 Z" fill="#e3effd"/>
<path d="M943.9 267.3 H1015.8 a2.5 2.5 0 0 1 2.5 2.5 V284.5 H943.9 Z" fill="#0a0a0a"/>
<path d="M943.9 284.5 H1019.3 V299.2 a2.5 2.5 0 0 1 -2.5 2.5 H943.9 Z" fill="#0a0a0a"/>
<rect x="943.9" y="284.2" width="75" height="0.6" fill="#444"/>
<path d="M943.9 328.5 H1016 a2.5 2.5 0 0 1 2.5 2.5 V357.5 a2.5 2.5 0 0 1 -2.5 2.5 H943.9 Z" fill="#1f9f88"/>
</svg>
<div class="t" style="left:871.7px;top:72.70px;font-size:13px;line-height:13px;color:#1b1f2a;letter-spacing:0.4px;font-weight:400;">Maksimum</div>
<div class="t" style="left:953.4px;top:72.70px;font-size:13px;line-height:13px;color:#1b1f2a;letter-spacing:0.72px;font-weight:400;">69023.79</div>
<div class="t" style="left:881.3px;top:417.00px;font-size:13px;line-height:13px;color:#1b1f2a;letter-spacing:0.4px;font-weight:400;">Minimum</div>
<div class="t" style="left:953.1px;top:417.00px;font-size:13px;line-height:13px;color:#1b1f2a;letter-spacing:0px;font-weight:400;">15477.17</div>
<div class="t" style="left:953.3px;top:268.80px;font-size:13px;line-height:13px;color:#fff;letter-spacing:0.72px;font-weight:400;">35981.34</div>
<div class="t" style="left:953.3px;top:286.30px;font-size:13px;line-height:13px;color:#fff;letter-spacing:0.72px;font-weight:400;">35702.39</div>
<div class="t" style="left:953.3px;top:329.80px;font-size:13px;line-height:13px;color:#fff;letter-spacing:0.72px;font-weight:400;">28933.15</div>
<div class="t" style="left:953.3px;top:345.40px;font-size:13px;line-height:13px;color:rgba(255,255,255,0.78);letter-spacing:0.15px;font-weight:400;">4d 11h</div>
</body></html>
